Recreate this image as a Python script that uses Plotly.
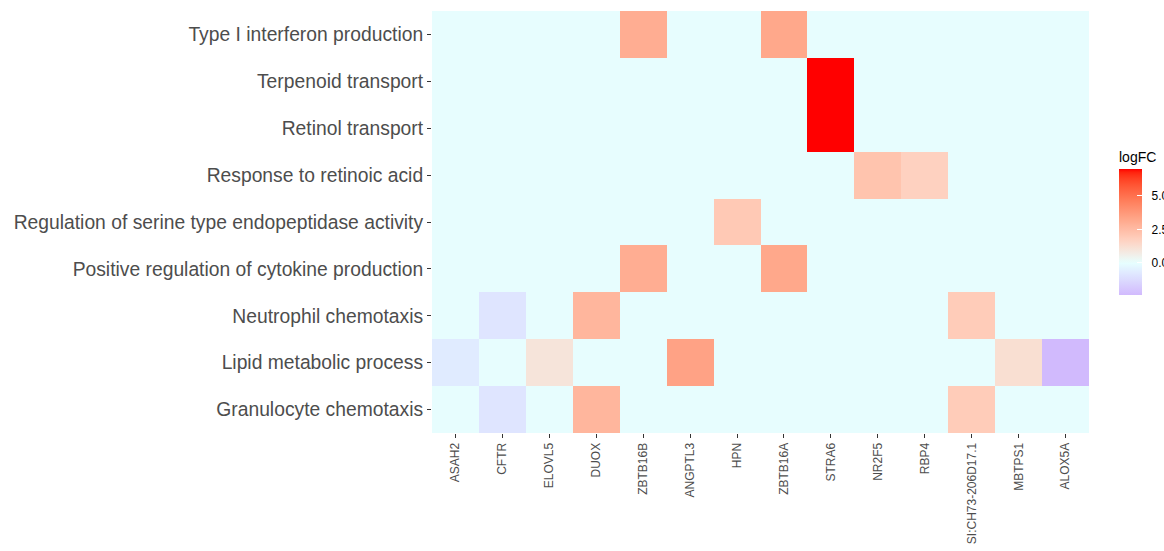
import plotly.graph_objects as go

# Genes (columns) and GO terms (rows, bottom to top)
genes = ["ASAH2", "CFTR", "ELOVL5", "DUOX", "ZBTB16B", "ANGPTL3", "HPN",
         "ZBTB16A", "STRA6", "NR2F5", "RBP4", "SI:CH73-206D17.1", "MBTPS1", "ALOX5A"]
terms = ["Granulocyte chemotaxis", "Lipid metabolic process", "Neutrophil chemotaxis",
         "Positive regulation of cytokine production",
         "Regulation of serine type endopeptidase activity", "Response to retinoic acid",
         "Retinol transport", "Terpenoid transport", "Type I interferon production"]

# logFC per term, one value per gene (0 = gene not annotated to the term)
granulocyte_chemotaxis = [0, -0.9, 0, 2.7, 0, 0, 0, 0, 0, 0, 0, 1.9, 0, 0]
lipid_metabolic_process = [-0.7, 0, 1.0, 0, 0, 3.4, 0, 0, 0, 0, 0, 0, 1.2, -2.4]
neutrophil_chemotaxis = [0, -0.9, 0, 2.7, 0, 0, 0, 0, 0, 0, 0, 1.9, 0, 0]
pos_reg_cytokine = [0, 0, 0, 0, 3.0, 0, 0, 3.2, 0, 0, 0, 0, 0, 0]
reg_serine_endopeptidase = [0, 0, 0, 0, 0, 0, 2.0, 0, 0, 0, 0, 0, 0, 0]
response_retinoic_acid = [0, 0, 0, 0, 0, 0, 0, 0, 0, 2.2, 1.7, 0, 0, 0]
retinol_transport = [0, 0, 0, 0, 0, 0, 0, 0, 7.0, 0, 0, 0, 0, 0]
terpenoid_transport = [0, 0, 0, 0, 0, 0, 0, 0, 7.0, 0, 0, 0, 0, 0]
type_i_interferon = [0, 0, 0, 0, 3.0, 0, 0, 3.2, 0, 0, 0, 0, 0, 0]

z = [granulocyte_chemotaxis, lipid_metabolic_process, neutrophil_chemotaxis,
     pos_reg_cytokine, reg_serine_endopeptidase, response_retinoic_acid,
     retinol_transport, terpenoid_transport, type_i_interferon]

LOW, MID, HIGH = "#9020F4", "#E6FFFF", "#FF0000"


# --- diverging Lab gradient (violet / light cyan / red), midpoint at 0 ---
def hex_to_rgb(h):
    h = h.lstrip("#")
    return [int(h[i:i + 2], 16) / 255 for i in (0, 2, 4)]


def srgb_to_lab(rgb):
    lin = [c / 12.92 if c <= 0.04045 else ((c + 0.055) / 1.055) ** 2.4 for c in rgb]
    r, g, b = lin
    x = (0.4124 * r + 0.3576 * g + 0.1805 * b) / 0.95047
    y = (0.2126 * r + 0.7152 * g + 0.0722 * b) / 1.0
    zz = (0.0193 * r + 0.1192 * g + 0.9505 * b) / 1.08883

    def f(t):
        return t ** (1 / 3) if t > 0.008856 else 7.787 * t + 16 / 116
    fx, fy, fz = f(x), f(y), f(zz)
    return [116 * fy - 16, 500 * (fx - fy), 200 * (fy - fz)]


def lab_to_hex(lab):
    L, a, b = lab
    fy = (L + 16) / 116
    fx = fy + a / 500
    fz = fy - b / 200

    def finv(t):
        return t ** 3 if t ** 3 > 0.008856 else (t - 16 / 116) / 7.787
    x, y, zz = finv(fx) * 0.95047, finv(fy), finv(fz) * 1.08883
    r = 3.2406 * x - 1.5372 * y - 0.4986 * zz
    g = -0.9689 * x + 1.8758 * y + 0.0415 * zz
    bb = 0.0557 * x - 0.2040 * y + 1.0570 * zz
    out = []
    for c in (r, g, bb):
        c = max(0.0, c)
        c = 12.92 * c if c <= 0.0031308 else 1.055 * c ** (1 / 2.4) - 0.055
        out.append(max(0, min(255, round(c * 255))))
    return "#{:02X}{:02X}{:02X}".format(*out)


lab_low, lab_mid, lab_high = (srgb_to_lab(hex_to_rgb(c)) for c in (LOW, MID, HIGH))

flat = [v for row in z for v in row]
zmin, zmax = min(flat), max(flat)
half = max(abs(zmin), abs(zmax))

colorscale = []
n = 40
for i in range(n + 1):
    s = i / n
    v = zmin + s * (zmax - zmin)
    t = 0.5 + v / (2 * half)
    if t < 0.5:
        f = (0.5 - t) / 0.5
        lab = [m + f * (lo - m) for m, lo in zip(lab_mid, lab_low)]
    else:
        f = (t - 0.5) / 0.5
        lab = [m + f * (hi - m) for m, hi in zip(lab_mid, lab_high)]
    colorscale.append([s, lab_to_hex(lab)])

W, H = 1164, 551
L_M, R_M, T_M, B_M = 432, 75, 11, 118
plot_w = W - L_M - R_M
plot_h = H - T_M - B_M

# colour bar: bar 171-295 px plus the title above it
cb_len = 147
cb_center = 295 - cb_len / 2

NB = "\u00a0"

fig = go.Figure(go.Heatmap(
    x=genes, y=terms, z=z,
    zmin=zmin, zmax=zmax,
    colorscale=colorscale,
    hoverongaps=False,
    colorbar=dict(
        title=dict(text="logFC", side="top", font=dict(size=14, color="#000000")),
        x=(1119 - L_M) / plot_w, xanchor="left",
        y=(H - B_M - cb_center) / plot_h, yanchor="middle",
        thickness=23, thicknessmode="pixels",
        len=cb_len, lenmode="pixels",
        outlinewidth=0,
        tickvals=[0, 2.5, 5.0],
        ticktext=[NB + NB + "0.0", NB + NB + "2.5", NB + NB + "5.0"],
        ticks="inside", ticklen=5, tickcolor="white", tickwidth=1,
        tickfont=dict(size=12, color="#000000"),
        xpad=0, ypad=0,
    ),
))

fig.update_layout(
    width=W, height=H,
    margin=dict(l=L_M, r=R_M, t=T_M, b=B_M, autoexpand=False),
    paper_bgcolor="white", plot_bgcolor="white",
    font=dict(family="Liberation Sans, Arial, sans-serif"),
    xaxis=dict(
        type="category", tickangle=-90, showgrid=False, zeroline=False,
        ticks="outside", ticklen=4, tickcolor="#333333",
        tickfont=dict(size=12, color="#4D4D4D"), automargin=False,
    ),
    yaxis=dict(
        type="category", showgrid=False, zeroline=False,
        ticks="outside", ticklen=4, tickcolor="#333333",
        tickfont=dict(size=19.3, color="#4D4D4D"), automargin=False,
    ),
)

fig.write_html("out.html")
